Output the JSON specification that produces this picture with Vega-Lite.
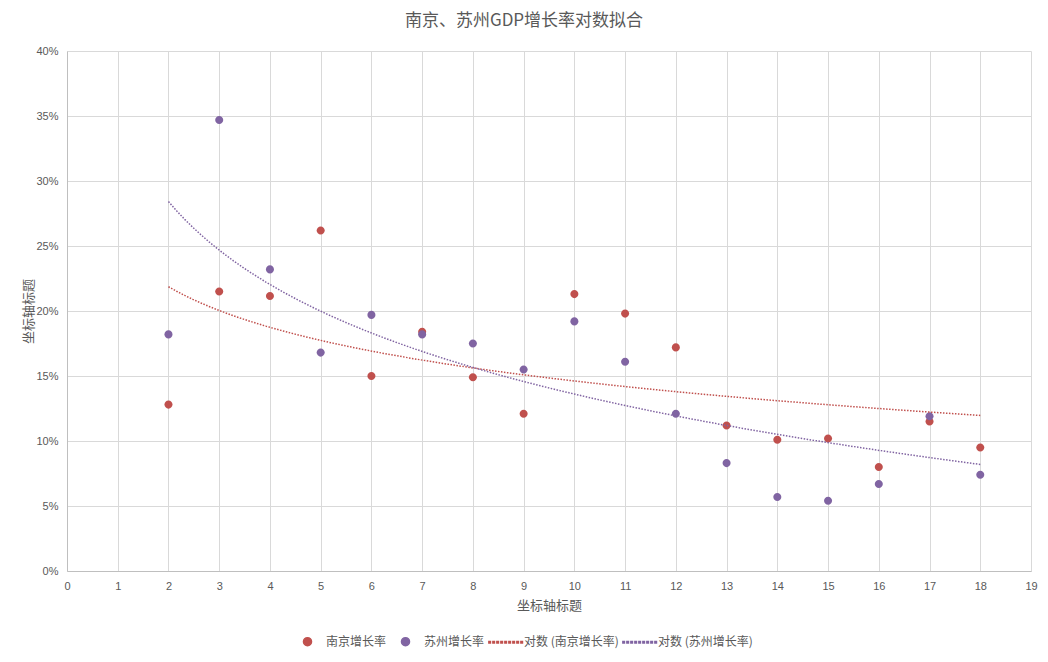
{
  "$schema": "https://vega.github.io/schema/vega-lite/v6.json",
  "autosize": {"type": "none"},
  "padding": {"left": 67, "top": 51, "right": 17, "bottom": 91},
  "width": 964,
  "height": 520,
  "background": "white",
  "title": {
    "text": "南京、苏州GDP增长率对数拟合",
    "font": "Noto Sans CJK SC",
    "fontSize": 17,
    "fontWeight": "normal",
    "color": "#595959",
    "anchor": "middle",
    "dx": -25,
    "offset": 15
  },
  "config": {
    "view": {"stroke": null},
    "axis": {
      "gridColor": "#D9D9D9",
      "gridWidth": 1,
      "domainColor": "#BFBFBF",
      "ticks": false,
      "labelFlush": false,
      "labelColor": "#595959",
      "labelFont": "Liberation Sans",
      "labelFontSize": 11,
      "titleColor": "#595959",
      "titleFont": "Noto Sans CJK SC",
      "titleFontSize": 13,
      "titleFontWeight": "normal"
    }
  },
  "data": {
    "values": [
      {"x": 2, "value": 0.128, "series": "南京增长率"},
      {"x": 3, "value": 0.215, "series": "南京增长率"},
      {"x": 4, "value": 0.2115, "series": "南京增长率"},
      {"x": 5, "value": 0.262, "series": "南京增长率"},
      {"x": 6, "value": 0.150, "series": "南京增长率"},
      {"x": 7, "value": 0.184, "series": "南京增长率"},
      {"x": 8, "value": 0.149, "series": "南京增长率"},
      {"x": 9, "value": 0.121, "series": "南京增长率"},
      {"x": 10, "value": 0.213, "series": "南京增长率"},
      {"x": 11, "value": 0.198, "series": "南京增长率"},
      {"x": 12, "value": 0.172, "series": "南京增长率"},
      {"x": 13, "value": 0.112, "series": "南京增长率"},
      {"x": 14, "value": 0.101, "series": "南京增长率"},
      {"x": 15, "value": 0.102, "series": "南京增长率"},
      {"x": 16, "value": 0.080, "series": "南京增长率"},
      {"x": 17, "value": 0.115, "series": "南京增长率"},
      {"x": 18, "value": 0.095, "series": "南京增长率"},
      {"x": 2, "value": 0.182, "series": "苏州增长率"},
      {"x": 3, "value": 0.347, "series": "苏州增长率"},
      {"x": 4, "value": 0.232, "series": "苏州增长率"},
      {"x": 5, "value": 0.168, "series": "苏州增长率"},
      {"x": 6, "value": 0.197, "series": "苏州增长率"},
      {"x": 7, "value": 0.182, "series": "苏州增长率"},
      {"x": 8, "value": 0.175, "series": "苏州增长率"},
      {"x": 9, "value": 0.155, "series": "苏州增长率"},
      {"x": 10, "value": 0.192, "series": "苏州增长率"},
      {"x": 11, "value": 0.161, "series": "苏州增长率"},
      {"x": 12, "value": 0.121, "series": "苏州增长率"},
      {"x": 13, "value": 0.083, "series": "苏州增长率"},
      {"x": 14, "value": 0.057, "series": "苏州增长率"},
      {"x": 15, "value": 0.054, "series": "苏州增长率"},
      {"x": 16, "value": 0.067, "series": "苏州增长率"},
      {"x": 17, "value": 0.119, "series": "苏州增长率"},
      {"x": 18, "value": 0.074, "series": "苏州增长率"}
    ]
  },
  "layer": [
    {
      "mark": {"type": "point", "filled": true, "opacity": 1, "size": 1225},
      "encoding": {
        "x": {
          "field": "x", "type": "quantitative",
          "scale": {"domain": [0, 19], "nice": false},
          "axis": {"values": [0,1,2,3,4,5,6,7,8,9,10,11,12,13,14,15,16,17,18,19], "title": "坐标轴标题", "labelPadding": 9, "titlePadding": 8, "format": "d"}
        },
        "y": {
          "field": "value", "type": "quantitative",
          "scale": {"domain": [0, 0.4], "nice": false},
          "axis": {"values": [0, 0.05, 0.1, 0.15, 0.2, 0.25, 0.3, 0.35, 0.4], "format": ".0%", "title": "坐标轴标题", "labelPadding": 9, "titlePadding": 0}
        },
        "color": {
          "field": "series", "type": "nominal",
          "scale": {
            "domain": ["南京增长率", "苏州增长率", "对数 (南京增长率)", "对数 (苏州增长率)"],
            "range": ["#C0504D", "#8064A2", "#C0504D", "#8064A2"]
          },
          "legend": {
            "orient": "none",
            "legendX": 222,
            "legendY": 572,
            "direction": "horizontal",
            "title": null,
            "symbolSize": 1225,
            "labelFont": "Noto Sans CJK SC",
            "labelFontSize": 12,
            "labelColor": "#595959",
            "labelOffset": 0,
            "columnPadding": 0
          }
        },
        "shape": {
          "field": "series", "type": "nominal",
          "scale": {
            "domain": ["南京增长率", "苏州增长率", "对数 (南京增长率)", "对数 (苏州增长率)"],
            "range": [
              "M-0.23,0A0.23,0.23,0,1,1,0.23,0A0.23,0.23,0,1,1,-0.23,0Z",
              "M-0.23,0A0.23,0.23,0,1,1,0.23,0A0.23,0.23,0,1,1,-0.23,0Z",
              "M-0.95,-0.045h0.09v0.09h-0.09zM-0.721,-0.045h0.09v0.09h-0.09zM-0.493,-0.045h0.09v0.09h-0.09zM-0.264,-0.045h0.09v0.09h-0.09zM-0.036,-0.045h0.09v0.09h-0.09zM0.193,-0.045h0.09v0.09h-0.09zM0.421,-0.045h0.09v0.09h-0.09zM0.65,-0.045h0.09v0.09h-0.09zM0.879,-0.045h0.09v0.09h-0.09z",
              "M-0.95,-0.045h0.09v0.09h-0.09zM-0.721,-0.045h0.09v0.09h-0.09zM-0.493,-0.045h0.09v0.09h-0.09zM-0.264,-0.045h0.09v0.09h-0.09zM-0.036,-0.045h0.09v0.09h-0.09zM0.193,-0.045h0.09v0.09h-0.09zM0.421,-0.045h0.09v0.09h-0.09zM0.65,-0.045h0.09v0.09h-0.09zM0.879,-0.045h0.09v0.09h-0.09z"
            ]
          },
          "legend": {"title": null}
        }
      }
    },
    {
      "transform": [
        {"regression": "value", "on": "x", "method": "log", "groupby": ["series"], "extent": [2, 18]}
      ],
      "mark": {"type": "line", "strokeWidth": 1.5, "strokeDash": [1.5, 1.5]},
      "encoding": {
        "x": {"field": "x", "type": "quantitative"},
        "y": {"field": "value", "type": "quantitative"},
        "color": {"field": "series", "type": "nominal", "legend": null}
      }
    }
  ]
}
